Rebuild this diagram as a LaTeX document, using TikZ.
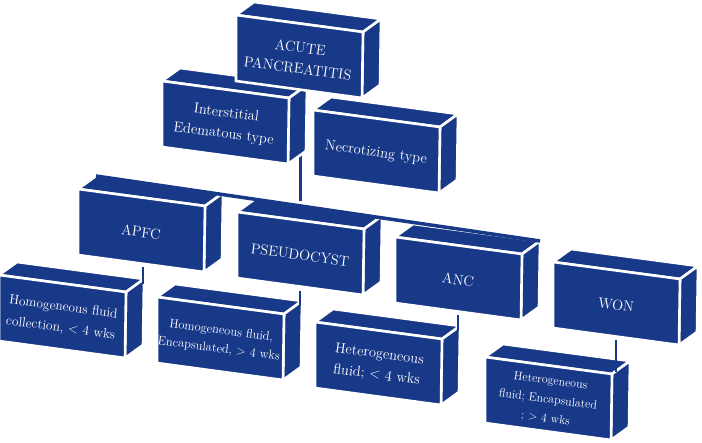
\documentclass[tikz,border=0pt]{standalone}
\usepackage{fontspec}
\definecolor{boxblue}{RGB}{24,56,136}
\tikzset{
  face/.style={fill=boxblue, draw=white, line width=2.6pt, line join=miter},
  boxtext/.style={text=white, align=center, inner sep=0pt, rotate=-7.6},
  conn/.style={draw=boxblue, line width=2.5pt},
  mainconn/.style={draw=boxblue, line width=3.5pt}
}
\newcommand\cubebox[5]{%
  \begin{scope}[shift={(#2,#3)}]
    \path[face] (0,0) -- (18,-13) -- (145,4) -- (127,17) -- cycle;
    \path[face] (127,17) -- (145,4) -- (144,70) -- (126,83) -- cycle;
    \path[face] (0,0) -- (127,17) -- (126,83) -- (0,66) -- cycle;
    \coordinate (#1-bl) at (18,-13);
    \coordinate (#1-br) at (145,4);
    \node[boxtext, font=#4] (#1) at (63,43) {#5};
  \end{scope}}
\begin{document}
\begin{tikzpicture}[x=1pt,y=-1pt]
\useasboundingbox (0,0) rectangle (702,443);
\fill[white] (0,0) rectangle (702,443);
% trunk connector behind the boxes
\coordinate (vtop) at (300,150);
\coordinate (vbot) at (300,201);
\draw[conn, line width=3pt] (vtop) -- (vbot);
% level 1
\cubebox{inter}{162}{81}{\fontsize{14.5}{21}\selectfont}{Interstitial\\Edematous type}
\cubebox{necro}{313}{110}{\fontsize{14.5}{21}\selectfont}{Necrotizing type}
\cubebox{acute}{236}{15}{\fontsize{14.5}{21}\selectfont}{ACUTE\\PANCREATITIS}
% level 2
\cubebox{apfc}{78}{189}{\fontsize{14.5}{21}\selectfont}{APFC}
\cubebox{pseudo}{237}{212}{\fontsize{14.5}{21}\selectfont}{PSEUDOCYST}
\cubebox{anc}{395}{237}{\fontsize{14.5}{21}\selectfont}{ANC}
\cubebox{won}{553}{262}{\fontsize{14.5}{21}\selectfont}{WON}
% horizontal connector along the back edges
\draw[mainconn] (apfc-bl) -- (anc-br);
% level 3
\cubebox{hfc}{-1}{275}{\fontsize{13.5}{21}\selectfont}{Homogeneous fluid\\collection, < 4 wks}
\cubebox{hfe}{157}{297}{\fontsize{12.5}{18.5}\selectfont}{Homogeneous fluid,\\Encapsulated, > 4 wks}
\cubebox{het}{315}{322}{\fontsize{14.5}{21}\selectfont}{Heterogeneous\\fluid; < 4 wks}
\cubebox{hetenc}{485}{357}{\fontsize{12}{19}\selectfont}{Heterogeneous\\fluid; Encapsulated\\; > 4 wks}
% short connectors
\coordinate (a1) at (143,267); \coordinate (a2) at (143,284);
\coordinate (p1) at (300,291); \coordinate (p2) at (300,306);
\coordinate (n1) at (458,315); \coordinate (n2) at (458,331);
\coordinate (w1) at (616,340); \coordinate (w2) at (616,372);
\draw[conn] (a1) -- (a2);
\draw[conn] (p1) -- (p2);
\draw[conn] (n1) -- (n2);
\draw[conn] (w1) -- (w2);
\end{tikzpicture}
\end{document}
